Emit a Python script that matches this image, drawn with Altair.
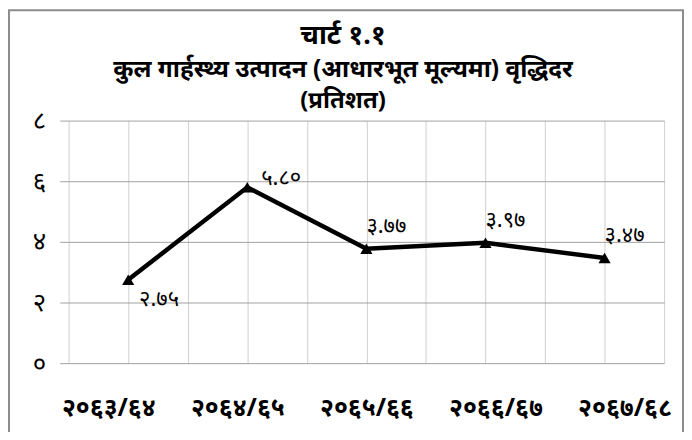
import json
import altair as alt
import pandas as pd

categories = ["२०६३/६४", "२०६४/६५", "२०६५/६६", "२०६६/६७", "२०६७/६८"]
values = [2.75, 5.80, 3.77, 3.97, 3.47]
y_ticks = [0, 2, 4, 6, 8]
title_lines = ["चार्ट १.१", "कुल गार्हस्थ्य उत्पादन (आधारभूत मूल्यमा) वृद्धिदर", "(प्रतिशत)"]

DEV = "०१२३४५६७८९"


def to_dev(s):
    return "".join(DEV[int(c)] if c.isdigit() else c for c in s)


df = pd.DataFrame({
    "pos": [2 * i + 1 for i in range(len(categories))],
    "cat": categories,
    "val": values,
    "lab": [to_dev(f"{v:.2f}") for v in values],
})

FONT = "Noto Sans"
cats_js = json.dumps(categories, ensure_ascii=False)
digits_js = json.dumps(list(DEV), ensure_ascii=False)

x_enc = alt.X(
    "pos:Q",
    scale=alt.Scale(domain=[0, 10], nice=False, zero=False),
    axis=alt.Axis(
        title=None,
        values=list(range(0, 11)),
        labelExpr=f"datum.value % 2 == 1 ? {cats_js}[(datum.value - 1) / 2] : ''",
        labelOffset=alt.ExprRef(expr="(datum.value - 5) * 5"),
        grid=True,
        gridColor="#d0d0d0",
        gridWidth=1,
        ticks=False,
        domain=False,
        labelFont=FONT,
        labelFontSize=25,
        labelFontWeight="bold",
        labelColor="#000000",
        labelPadding=33,
        labelOverlap=False,
    ),
)
y_enc = alt.Y(
    "val:Q",
    scale=alt.Scale(domain=[0, 8], nice=False),
    axis=alt.Axis(
        title=None,
        values=y_ticks,
        labelExpr=f"{digits_js}[datum.value]",
        grid=True,
        gridColor="#a0a0a0",
        gridWidth=1,
        ticks=True,
        tickSize=9,
        tickColor="#a0a0a0",
        domain=False,
        labelFont=FONT,
        labelFontSize=26,
        labelColor="#000000",
        labelPadding=14,
    ),
)

base = alt.Chart(df).transform_joinaggregate(
    vmax="max(val)", vmin="min(val)"
)

line = alt.Chart(df).mark_line(color="black", strokeWidth=4.5).encode(x=x_enc, y=y_enc)
pts = alt.Chart(df).mark_point(shape="triangle-up", filled=True, color="black", size=150, opacity=1).encode(
    x="pos:Q", y="val:Q"
)
labels_above = base.transform_filter("datum.val != datum.vmax && datum.val != datum.vmin").mark_text(
    align="left", baseline="middle", dx=0, dy=-23, font=FONT, fontSize=22, color="black"
).encode(x="pos:Q", y="val:Q", text="lab:N")
labels_max = base.transform_filter("datum.val == datum.vmax").mark_text(
    align="left", baseline="middle", dx=14, dy=-9, font=FONT, fontSize=22, color="black"
).encode(x="pos:Q", y="val:Q", text="lab:N")
labels_min = base.transform_filter("datum.val == datum.vmin").mark_text(
    align="left", baseline="middle", dx=11, dy=19, font=FONT, fontSize=22, color="black"
).encode(x="pos:Q", y="val:Q", text="lab:N")

border = alt.Chart(pd.DataFrame({"a": [0]})).mark_rect(
    fill=None, stroke="#8c8c8c", strokeWidth=2, clip=False
).encode(x=alt.value(-60), x2=alt.value(618), y=alt.value(-111), y2=alt.value(340))

title_y = [-85, -51, -20]
title_sizes = [27, 24.5, 24]
title_layers = [
    alt.Chart(pd.DataFrame({"t": [t]})).mark_text(
        font=FONT, fontSize=s, fontWeight="bold", color="black",
        align="center", baseline="middle", clip=False,
    ).encode(x=alt.value(276), y=alt.value(yy), text="t:N")
    for t, yy, s in zip(title_lines, title_y, title_sizes)
]

chart = alt.layer(border, line, pts, labels_above, labels_max, labels_min, *title_layers).properties(
    width=599,
    height=244,
    padding={"left": 61, "top": 112, "right": 20, "bottom": 68},
    autosize=alt.AutoSizeParams(type="none"),
).configure_view(stroke=None)

chart.save("out.html", embed_options={"renderer": "svg", "actions": False})
